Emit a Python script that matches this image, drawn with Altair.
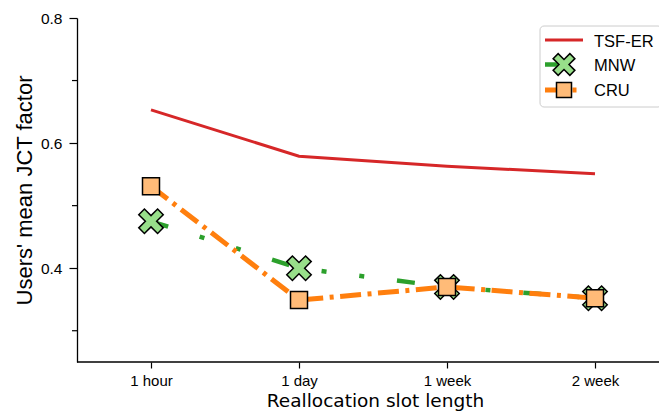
import altair as alt
import pandas as pd

# ---- data ----
categories = ["1 hour", "1 day", "1 week", "2 week"]
series_names = ["TSF-ER", "MNW", "CRU"]
tsf_er = [0.653, 0.579, 0.563, 0.551]
mnw = [0.475, 0.400, 0.370, 0.352]
cru = [0.531, 0.349, 0.370, 0.352]
y_major_ticks = [0.4, 0.6, 0.8]
y_minor_ticks = [0.3, 0.5, 0.7]

rows = []
for name, vals in zip(series_names, [tsf_er, mnw, cru]):
    for i, (c, v) in enumerate(zip(categories, vals)):
        rows.append({"series": name, "slot": c, "idx": i, "value": v})
df = pd.DataFrame(rows)
minor_df = pd.DataFrame({"value": y_minor_ticks})

W, H = 582, 344
RED, GREEN, ORANGE = "#d62728", "#2ca02c", "#ff7f0e"
GREEN_FILL, ORANGE_FILL = "#98df8a", "#ffbb78"
DASH_MNW = [18, 33, 5, 33, 5, 33]
DASH_CRU = [21, 6.5, 4, 6.5]
XPATH = ("M -0.3,-1 L 0.3,-1 L 0.3,-0.3 L 1,-0.3 L 1,0.3 L 0.3,0.3 "
         "L 0.3,1 L -0.3,1 L -0.3,0.3 L -1,0.3 L -1,-0.3 L -0.3,-0.3 Z")
LABEL_FONT = "Liberation Sans"

yscale = alt.Scale(domain=[0.25, 0.8], nice=False, zero=False)
xscale = alt.Scale(type="point", padding=0, domain=categories, range=[74, 518])

x_axis = alt.Axis(
    title="Reallocation slot length", labelAngle=0,
    labelFont=LABEL_FONT, labelFontSize=15, labelColor="black",
    labelBaseline="alphabetic", labelPadding=17,
    tickSize=6, tickColor="black", tickWidth=1.2,
    domain=False, grid=False,
    titleFont="DejaVu Sans", titleFontSize=18.5, titleFontWeight="normal",
    titleColor="black", titleX=298, titleY=44.5,
    titleBaseline="alphabetic", titleAlign="center",
)
y_axis = alt.Axis(
    values=y_major_ticks, format=".1f",
    labelFont=LABEL_FONT, labelFontSize=15.5, labelColor="black",
    labelPadding=7, tickSize=8, tickColor="black", tickWidth=1.2,
    domainColor="black", domainWidth=1.3, grid=False,
    title="Users' mean JCT factor", titleFont=LABEL_FONT,
    titleFontSize=22, titleFontWeight="normal", titleColor="black",
    titleX=-46, titleY=H / 2, titleAngle=270,
    titleBaseline="alphabetic", titleAlign="center",
)

x_enc = alt.X("slot:N", sort=categories, scale=xscale, axis=x_axis)
y_enc = alt.Y("value:Q", scale=yscale, axis=y_axis)

base = alt.Chart(df).encode(x=x_enc, y=y_enc, order=alt.Order("idx:Q"))


def sel(name):
    return base.transform_filter(alt.datum.series == name)


line_tsf = sel("TSF-ER").mark_line(color=RED, strokeWidth=3)
line_mnw = sel("MNW").mark_line(color=GREEN, strokeWidth=4.5, strokeDash=DASH_MNW)
pts_mnw = sel("MNW").mark_point(
    shape=XPATH, angle=45, size=708, filled=True, fill=GREEN_FILL,
    stroke="black", strokeWidth=1.5, opacity=1)
line_cru = sel("CRU").mark_line(color=ORANGE, strokeWidth=5, strokeDash=DASH_CRU)
pts_cru = sel("CRU").mark_point(
    shape="square", size=289, filled=True, fill=ORANGE_FILL,
    stroke="black", strokeWidth=1.5, opacity=1)

# minor (unlabelled) y ticks
minor = alt.Chart(minor_df).mark_rule(color="black", strokeWidth=1.2).encode(
    y=alt.Y("value:Q", scale=yscale, axis=y_axis),
    x=alt.value(-5), x2=alt.value(0),
)
# bottom spine across the whole plot width
one = pd.DataFrame({"k": [0]})
bottom_spine = alt.Chart(one).mark_rule(color="black", strokeWidth=1.3).encode(
    x=alt.value(0), x2=alt.value(W), y=alt.value(H))

# ---- legend (drawn as decoration) ----
legend_layers = [
    alt.Chart(one).mark_rect(cornerRadius=4, stroke="#cccccc", strokeWidth=1,
                             fill="white", fillOpacity=0.85).encode(
        x=alt.value(463), x2=alt.value(585), y=alt.value(8), y2=alt.value(89)),
]
entry_y = [22, 46.5, 72]
text_y = [28.5, 53, 77.5]
line_styles = [
    dict(color=RED, strokeWidth=3),
    dict(color=GREEN, strokeWidth=4.5, strokeDash=DASH_MNW),
    dict(color=ORANGE, strokeWidth=5, strokeDash=DASH_CRU),
]
for name, ey, ty, st in zip(series_names, entry_y, text_y, line_styles):
    legend_layers.append(
        alt.Chart(one).mark_rule(**st).encode(
            x=alt.value(468), x2=alt.value(506), y=alt.value(ey), y2=alt.value(ey)))
    if name == "MNW":
        legend_layers.append(
            alt.Chart(one).mark_point(
                shape=XPATH, angle=45, size=560, filled=True, fill=GREEN_FILL,
                stroke="black", strokeWidth=1.5, opacity=1).encode(
                x=alt.value(487), y=alt.value(ey)))
    if name == "CRU":
        legend_layers.append(
            alt.Chart(one).mark_point(
                shape="square", size=225, filled=True, fill=ORANGE_FILL,
                stroke="black", strokeWidth=1.5, opacity=1).encode(
                x=alt.value(487), y=alt.value(ey)))
    legend_layers.append(
        alt.Chart(pd.DataFrame({"label": [name]})).mark_text(
            font=LABEL_FONT, fontSize=16.5, color="black", align="left",
            baseline="alphabetic").encode(
            text="label:N", x=alt.value(517), y=alt.value(ty)))

chart = alt.layer(
    line_tsf, line_mnw, pts_mnw, line_cru, pts_cru, minor, bottom_spine,
    *legend_layers
).properties(
    width=W, height=H,
    autosize=alt.AutoSizeParams(type="none"),
    padding={"left": 69, "top": 10, "right": 0, "bottom": 49},
    background="white",
).configure_view(stroke=None)

chart.save("out.html", embed_options={"renderer": "svg", "actions": False})
